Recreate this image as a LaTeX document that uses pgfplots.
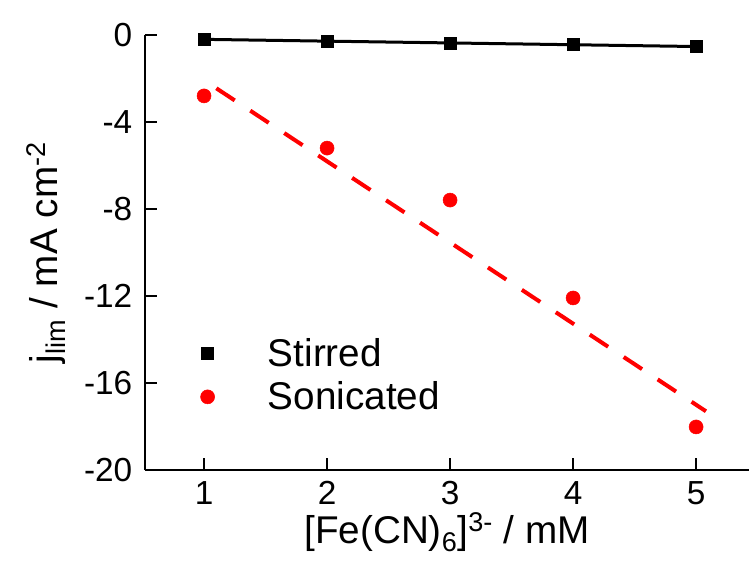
\documentclass[border=0pt]{standalone}
\usepackage{fontspec}
\setmainfont{Liberation Sans}
\usepackage{pgfplots}
\pgfplotsset{compat=1.18}

\begin{document}
\begin{tikzpicture}
\begin{axis}[
  scale only axis,
  width=453pt, height=326.25pt,
  xmin=0.52, xmax=5.43,
  ymin=-20, ymax=0,
  axis lines=left,
  axis line style={-, line width=1.5pt},
  xtick={1,2,3,4,5},
  ytick={-20,-16,-12,-8,-4,0},
  tick style={line width=1.5pt, black},
  major tick length=9pt,
  tick align=inside,
  /pgf/number format/assume math mode=true,
  ticklabel style={font=\fontsize{25}{30}\selectfont},
  xticklabel style={yshift=-5pt},
  yticklabel style={xshift=-6pt},
  label style={font=\fontsize{29}{34}\selectfont},
  xlabel={[Fe(CN)\textsubscript{6}]\textsuperscript{3-} / mM},
  ylabel={j\textsubscript{lim} / mA cm\textsuperscript{-2}},
  xlabel style={yshift=1pt},
  ylabel style={yshift=7pt},
  legend style={draw=none, fill=none, at={(0.085,0.218)}, anchor=west,
    font=\fontsize{29}{34}\selectfont, row sep=6pt, column sep=38pt},
  legend cell align=left,
  clip=false,
]
\addplot[only marks, mark=square*, mark size=4.5pt, black] coordinates {
  (1,-0.20) (2,-0.28) (3,-0.36) (4,-0.44) (5,-0.53)};
\addlegendentry{Stirred}
\addplot[only marks, mark=*, mark size=5.25pt, red] coordinates {
  (1,-2.80) (2,-5.20) (3,-7.59) (4,-12.09) (5,-18.02)};
\addlegendentry{Sonicated}
\addplot[forget plot, black, line width=2.25pt] coordinates {(1,-0.20) (5,-0.53)};
\addplot[forget plot, red, line width=3pt, dash pattern=on 16.5pt off 14pt] coordinates {(1.1,-2.45) (5.08,-17.30)};
\coordinate (ll) at (rel axis cs:0,0);
\end{axis}
\pgfresetboundingbox
\path ([xshift=-108.75pt, yshift=-68.25pt]ll) rectangle ([xshift=453pt, yshift=352.5pt]ll);
\end{tikzpicture}
\end{document}
